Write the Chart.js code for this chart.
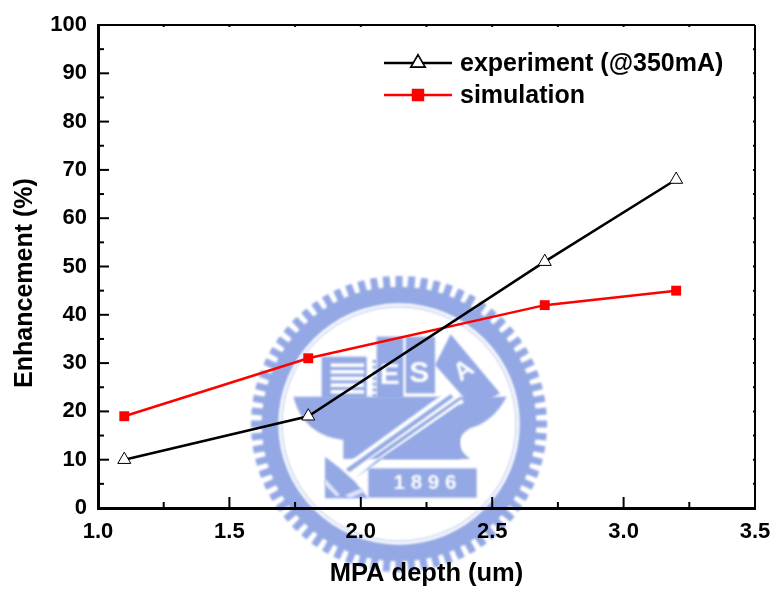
<!DOCTYPE html>
<html>
<head>
<meta charset="utf-8">
<style>
  html, body { margin: 0; padding: 0; background: #fff; }
  canvas { display: block; filter: blur(0.4px); }
</style>
<script src="https://cdn.jsdelivr.net/npm/chart.js@4"></script>
</head>
<body>
<canvas id="enhChart" width="777" height="593"></canvas>
<script>
const depths = [1.1, 1.8, 2.7, 3.2];
const experiment = [10, 19, 51, 68];
const simulation = [19, 31, 42, 45];
const xTicks = [1.0, 1.5, 2.0, 2.5, 3.0, 3.5];
const yTicks = [0, 10, 20, 30, 40, 50, 60, 70, 80, 90, 100];
const expLabel = 'experiment (@350mA)';
const simLabel = 'simulation';
const xTitle = 'MPA depth (um)';
const yTitle = 'Enhancement (%)';

const FONT = '"Liberation Sans", Arial, sans-serif';
const SEAL = '#93a8e4';

// university seal behind the plot, drawn in a 3x coordinate space
const sealPlugin = {
    id: 'seal',
    beforeDraw(chart) {
        const c = chart.ctx;
        c.save();
        c.fillStyle = '#fff';
        c.fillRect(0, 0, chart.width, chart.height);
        c.filter = 'blur(1px)';
        c.translate(240, 265);
        c.scale(1 / 3, 1 / 3);

        const poly = (pts, color) => {
            c.fillStyle = color;
            c.beginPath();
            pts.forEach((p, i) => i ? c.lineTo(p[0], p[1]) : c.moveTo(p[0], p[1]));
            c.closePath();
            c.fill();
        };
        const cx = 477, cy = 477;

        // teeth and ring
        c.strokeStyle = SEAL;
        c.lineWidth = 21;
        for (let i = 0; i < 72; i++) {
            const a = i / 72 * Math.PI * 2;
            c.beginPath();
            c.moveTo(cx + Math.cos(a) * 400, cy + Math.sin(a) * 400);
            c.lineTo(cx + Math.cos(a) * 444, cy + Math.sin(a) * 444);
            c.stroke();
        }
        c.fillStyle = SEAL;
        c.beginPath();
        c.arc(cx, cy, 412, 0, Math.PI * 2);
        c.fill();
        c.fillStyle = '#fff';
        c.beginPath();
        c.arc(cx, cy, 362, 0, Math.PI * 2);
        c.fill();
        c.strokeStyle = '#c9d4f1';
        c.lineWidth = 5;
        c.beginPath();
        c.arc(cx, cy, 352, 0, Math.PI * 2);
        c.stroke();

        // buildings
        c.fillStyle = SEAL;
        c.fillRect(245, 275, 135, 125);
        c.fillStyle = '#fff';
        for (let y = 295; y < 390; y += 20) c.fillRect(272, y, 100, 11);
        c.fillStyle = SEAL;
        for (let y = 285; y < 395; y += 17) c.fillRect(398, y, 12, 9);
        c.fillRect(410, 215, 80, 185);
        c.fillRect(497, 215, 88, 170);
        poly([[632, 208], [780, 385], [700, 430], [585, 300]], SEAL);

        // anvil
        c.fillStyle = SEAL;
        c.beginPath();
        c.moveTo(160, 395);
        c.lineTo(800, 395);
        c.quadraticCurveTo(760, 470, 690, 490);
        c.quadraticCurveTo(625, 530, 690, 582);
        c.lineTo(310, 582);
        c.lineTo(310, 525);
        c.quadraticCurveTo(190, 510, 160, 395);
        c.closePath();
        c.fill();

        // hammer handle cut out of the anvil
        poly([[298, 612], [635, 368], [660, 395], [318, 632]], '#fff');
        poly([[318, 612], [632, 388], [640, 397], [328, 622]], SEAL);
        poly([[340, 632], [665, 402], [672, 412], [415, 585], [345, 645]], '#fff');
        poly([[345, 640], [660, 418], [660, 582], [415, 582]], SEAL);

        // hammer head and plaque
        poly([[255, 575], [300, 610], [345, 650], [385, 700], [255, 700]], SEAL);
        poly([[255, 640], [300, 690], [290, 695], [255, 660]], '#dfe5f7');
        poly([[315, 690], [365, 670], [372, 680], [330, 700]], '#dfe5f7');
        c.fillStyle = SEAL;
        c.fillRect(385, 610, 325, 88);

        c.fillStyle = '#fff';
        c.textAlign = 'center';
        c.textBaseline = 'middle';
        c.font = 'bold 62px ' + FONT;
        c.fillText('1 8 9 6', 555, 655);
        c.font = 'bold 90px ' + FONT;
        c.fillText('E', 449, 332);
        c.fillText('S', 538, 325);
        c.save();
        c.translate(672, 318);
        c.rotate(-0.6);
        c.font = 'bold 76px ' + FONT;
        c.fillText('A', 0, 0);
        c.restore();
        c.restore();
    }
};

// Origin style frame: ticks point inward, small stubs on top and right
const framePlugin = {
    id: 'frame',
    afterDatasetsDraw(chart) {
        const c = chart.ctx;
        const a = chart.chartArea;
        const sx = chart.scales.x, sy = chart.scales.y;
        c.save();
        c.strokeStyle = '#000';
        const seg = (x1, y1, x2, y2, w) => {
            c.lineWidth = w;
            c.beginPath();
            c.moveTo(x1, y1);
            c.lineTo(x2, y2);
            c.stroke();
        };
        seg(a.left, a.top, a.right, a.top, 2);
        seg(a.right, a.top, a.right, a.bottom, 2);

        xTicks.forEach((v, i) => {
            const px = sx.getPixelForValue(v);
            seg(px, a.bottom, px, a.bottom - 11, 2);
            seg(px, a.top, px, a.top + 2, 2);
            if (i < xTicks.length - 1) {
                const mx = sx.getPixelForValue((v + xTicks[i + 1]) / 2);
                seg(mx, a.bottom, mx, a.bottom - 6, 2);
                seg(mx, a.top, mx, a.top + 2, 2);
            }
        });
        yTicks.forEach((v, i) => {
            const py = sy.getPixelForValue(v);
            seg(a.left, py, a.left + 11, py, 2);
            seg(a.right, py, a.right - 2, py, 2);
            if (i < yTicks.length - 1) {
                const my = sy.getPixelForValue((v + yTicks[i + 1]) / 2);
                seg(a.left, my, a.left + 6, my, 2);
                seg(a.right, my, a.right - 2, my, 2);
            }
        });

        // y title sits below the axis centre in the reference
        c.fillStyle = '#000';
        c.font = 'bold 25px ' + FONT;
        c.textAlign = 'center';
        c.textBaseline = 'middle';
        c.translate(25, 283);
        c.rotate(-Math.PI / 2);
        c.fillText(yTitle, 0, 0);
        c.restore();
    }
};

// legend with the line running through the marker
const legendPlugin = {
    id: 'lineLegend',
    afterDatasetsDraw(chart) {
        const c = chart.ctx;
        c.save();
        c.font = 'bold 25px ' + FONT;
        c.textBaseline = 'middle';
        chart.data.datasets.forEach((ds, i) => {
            const y = 63 + i * 32;
            c.strokeStyle = ds.borderColor;
            c.lineWidth = 2.5;
            c.beginPath();
            c.moveTo(384, y);
            c.lineTo(452, y);
            c.stroke();
            Chart.helpers.drawPoint(c, {
                pointStyle: ds.pointStyle,
                radius: ds.pointRadius,
                borderWidth: ds.pointBorderWidth,
                rotation: 0
            }, 418, y);
            c.fillStyle = ds.pointBackgroundColor;
            c.strokeStyle = ds.pointBorderColor;
            c.lineWidth = ds.pointBorderWidth;
            c.fill();
            c.stroke();
            c.fillStyle = '#000';
            c.fillText(ds.label, 460, y + 1);
        });
        c.restore();
    }
};

const toPoints = vals => vals.map((v, i) => ({ x: depths[i], y: v }));

new Chart(document.getElementById('enhChart'), {
    type: 'line',
    data: {
        datasets: [
            {
                label: expLabel,
                data: toPoints(experiment),
                borderColor: '#000',
                borderWidth: 2.5,
                pointStyle: 'triangle',
                pointRadius: 7.5,
                pointBorderWidth: 1,
                pointBackgroundColor: '#fff',
                pointBorderColor: '#000'
            },
            {
                label: simLabel,
                data: toPoints(simulation),
                borderColor: '#f00',
                borderWidth: 2.5,
                pointStyle: 'rect',
                pointRadius: 7,
                pointBorderWidth: 0,
                pointBackgroundColor: '#f00',
                pointBorderColor: '#f00'
            }
        ]
    },
    plugins: [sealPlugin, framePlugin, legendPlugin],
    options: {
        responsive: false,
        animation: false,
        layout: { padding: { top: 25, right: 22, left: 0, bottom: 0 } },
        plugins: { legend: { display: false }, tooltip: { enabled: false } },
        scales: {
            x: {
                type: 'linear',
                min: 1,
                max: 3.5,
                afterFit: s => { s.height = 85; s.paddingRight = 0; s.paddingLeft = 0; },
                afterBuildTicks: s => { s.ticks = xTicks.map(v => ({ value: v })); },
                grid: { display: false, drawTicks: false },
                border: { display: true, color: '#000', width: 3 },
                ticks: {
                    color: '#000',
                    padding: 11,
                    maxRotation: 0,
                    autoSkip: false,
                    font: { family: FONT, size: 22, weight: 'bold' },
                    callback: v => v.toFixed(1)
                },
                title: {
                    display: true,
                    text: xTitle,
                    color: '#000',
                    padding: { top: 0, bottom: 6 },
                    font: { family: FONT, size: 25.5, weight: 'bold', lineHeight: 1 }
                }
            },
            y: {
                min: 0,
                max: 100,
                afterFit: s => { s.width = 98; s.paddingTop = 0; s.paddingBottom = 0; },
                afterBuildTicks: s => { s.ticks = yTicks.map(v => ({ value: v })); },
                grid: { display: false, drawTicks: false },
                border: { display: true, color: '#000', width: 3 },
                ticks: {
                    color: '#000',
                    padding: 11,
                    autoSkip: false,
                    font: { family: FONT, size: 22, weight: 'bold' }
                }
            }
        }
    }
});
</script>
</body>
</html>
